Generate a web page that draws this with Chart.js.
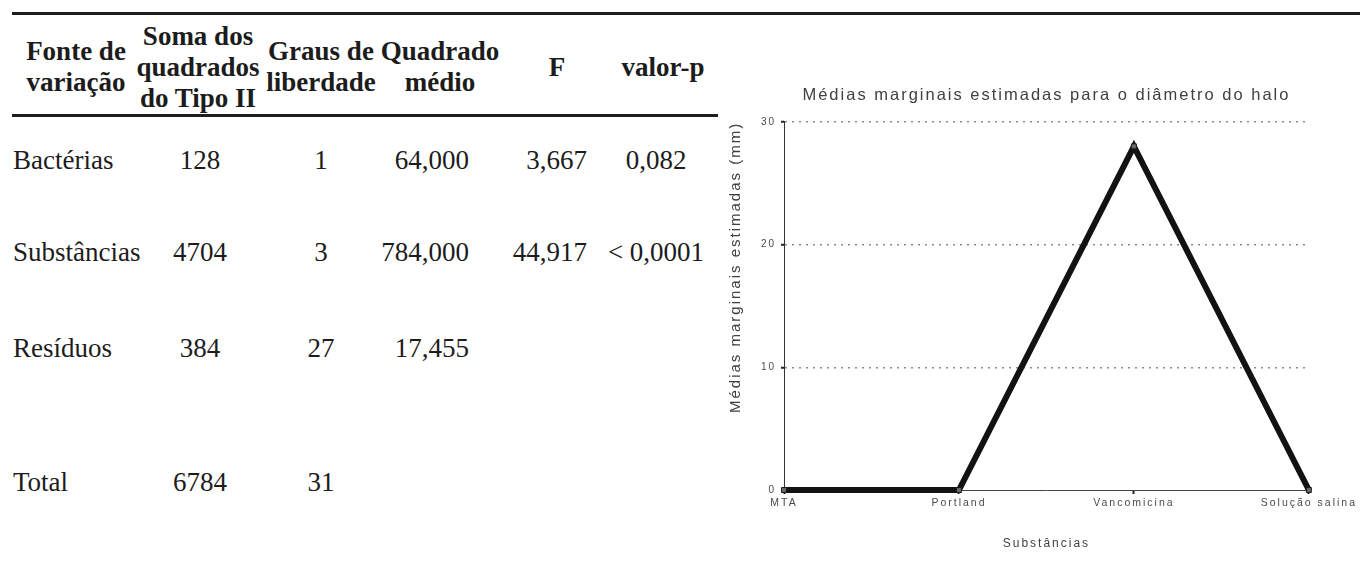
<!DOCTYPE html>
<html lang="pt">
<head>
<meta charset="utf-8">
<title>ANOVA e médias marginais</title>
<script src="https://cdn.jsdelivr.net/npm/chart.js@4.4.1/dist/chart.umd.min.js"></script>
<style>
  html, body { margin: 0; padding: 0; background: #fff; }
  body { width: 1360px; height: 564px; position: relative; overflow: hidden; }
  .regra { position: absolute; background: #1e1e1e; }
  #regraTopo { left: 12px; top: 12px; width: 1348px; height: 3px; }
  #regraCab { left: 12px; top: 114px; width: 706px; height: 3px; }
  .cab, .cel { position: absolute; font-family: "Liberation Serif", "Times New Roman", serif;
    color: #1c1c1c; white-space: nowrap; }
  .cab { top: 18px; height: 98px; width: 140px; font-size: 27px; font-weight: bold; line-height: 31px;
    display: flex; align-items: center; justify-content: center; text-align: center; }
  .cel { height: 32px; line-height: 32px; width: 140px; font-size: 27px; }
  .esq { text-align: left; }
  .centro { text-align: center; }
  .dir { text-align: right; }
  #caixaGrafico { position: absolute; left: 690px; top: 70px; width: 670px; height: 494px; }
</style>
</head>
<body>
<div id="regraTopo" class="regra"></div>
<div id="regraCab" class="regra"></div>
<div id="tabela"></div>
<div id="caixaGrafico"><canvas id="grafico" width="670" height="494"></canvas></div>

<script>
// TABELA ANOVA
let cabecalhos = ["Fonte de<br>variação", "Soma dos<br>quadrados<br>do Tipo II", "Graus de<br>liberdade",
  "Quadrado<br>médio", "F", "valor-p"];
let fontes = ["Bactérias", "Substâncias", "Resíduos", "Total"];
let somaQuadrados = ["128", "4704", "384", "6784"];
let grausLiberdade = ["1", "3", "27", "31"];
let quadradoMedio = ["64,000", "784,000", "17,455", ""];
let valoresF = ["3,667", "44,917", "", ""];
let valoresP = ["0,082", "< 0,0001", "", ""];

// GRÁFICO
let substancias = ["MTA", "Portland", "Vancomicina", "Solução salina"];
let mediasHalo = [0, 0, 28, 0];
let ticksY = [0, 10, 20, 30];

// layout da tabela (x de ancoragem e alinhamento por coluna, y central por linha)
let colunas = [
  { cab: 76, x: 13, al: "esq" },
  { cab: 198, x: 200, al: "centro" },
  { cab: 321, x: 321, al: "centro" },
  { cab: 440, x: 469, al: "dir" },
  { cab: 557, x: 587, al: "dir" },
  { cab: 663, x: 656, al: "centro" }
];
let linhasY = [160, 252, 348, 482];

let tabela = document.getElementById("tabela");

cabecalhos.forEach((txt, i) => {
  let d = document.createElement("div");
  d.className = "cab";
  d.style.left = (colunas[i].cab - 70) + "px";
  d.innerHTML = "<span>" + txt + "</span>";
  tabela.appendChild(d);
});

let colunasDados = [fontes, somaQuadrados, grausLiberdade, quadradoMedio, valoresF, valoresP];
colunasDados.forEach((col, i) => {
  col.forEach((valor, j) => {
    if (!valor) return;
    let c = colunas[i];
    let d = document.createElement("div");
    d.className = "cel " + c.al;
    let esquerda = c.x;
    if (c.al === "centro") esquerda = c.x - 70;
    if (c.al === "dir") esquerda = c.x - 140;
    d.style.left = esquerda + "px";
    d.style.top = (linhasY[j] - 16) + "px";
    d.innerText = valor;
    tabela.appendChild(d);
  });
});

// espaçamento de letras como no original
let espacamento = {
  id: "espacamento",
  beforeUpdate(chart) { chart.ctx.letterSpacing = "2px"; },
  beforeDraw(chart) { chart.ctx.letterSpacing = "2px"; }
};

let fonte = "'Liberation Sans', Arial, sans-serif";

new Chart(document.getElementById("grafico").getContext("2d"), {
  type: "line",
  data: {
    labels: substancias,
    datasets: [{
      data: mediasHalo,
      borderColor: "#121212",
      borderWidth: 6,
      borderJoinStyle: "miter",
      tension: 0,
      clip: false,
      pointStyle: "rect",
      pointRadius: 3.5,
      pointBackgroundColor: "#6a6a6a",
      pointBorderColor: "#1a1a1a",
      pointBorderWidth: 1
    }]
  },
  options: {
    responsive: false,
    animation: false,
    layout: { padding: { right: 50 } },
    plugins: {
      legend: { display: false },
      tooltip: { enabled: false },
      title: {
        display: true,
        fullSize: false,
        text: "Médias marginais estimadas para o diâmetro do halo",
        color: "#404040",
        font: { family: fonte, size: 16.5, weight: "normal" },
        padding: { top: 16, bottom: 16 }
      }
    },
    scales: {
      x: {
        offset: false,
        grid: { display: true, drawOnChartArea: false, drawTicks: true, tickLength: 4, tickWidth: 2, tickColor: "#222" },
        border: { display: true, color: "#444", width: 1 },
        ticks: { color: "#4a4a4a", font: { family: fonte, size: 10.5 }, padding: 3, maxRotation: 0, autoSkip: false },
        title: { display: true, text: "Substâncias", color: "#404040", font: { family: fonte, size: 12 }, padding: { top: 0, bottom: 13 } },
        afterFit(s) { s.height = 74; }
      },
      y: {
        min: 0,
        max: 30,
        afterBuildTicks(s) { s.ticks = ticksY.map(v => ({ value: v })); },
        grid: {
          color: c => c.tick && c.tick.value === 0 ? "rgba(0,0,0,0)" : "#8c8c8c",
          lineWidth: 1.5,
          drawTicks: true,
          tickLength: 3,
          tickWidth: 2,
          tickColor: "#222",
          tickBorderDash: []
        },
        border: { display: true, color: "#333", width: 1, dash: [2, 5] },
        ticks: { color: "#4a4a4a", font: { family: fonte, size: 10 }, padding: 5 },
        title: { display: true, text: "Médias marginais estimadas (mm)", align: "end", color: "#404040", font: { family: fonte, size: 15 }, padding: { top: 37, bottom: 0 } },
        afterFit(s) { s.width = 94; }
      }
    }
  },
  plugins: [espacamento]
});
</script>
</body>
</html>
